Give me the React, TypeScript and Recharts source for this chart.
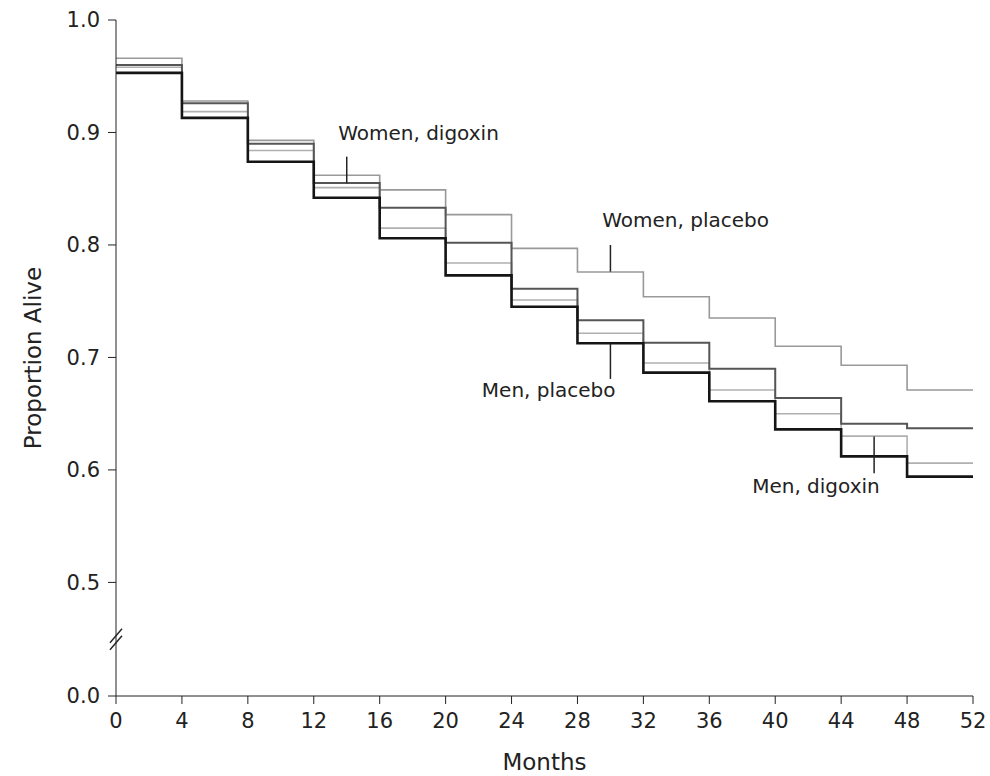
import React from "react";
import { LineChart, Line, XAxis, YAxis, ReferenceLine, ReferenceDot } from "recharts";

const months = [0, 4, 8, 12, 16, 20, 24, 28, 32, 36, 40, 44, 48, 52];
const womenPlacebo = [0.966, 0.928, 0.893, 0.862, 0.849, 0.827, 0.797, 0.776, 0.754, 0.735, 0.71, 0.693, 0.671, 0.671];
const womenDigoxin = [0.96, 0.926, 0.89, 0.855, 0.833, 0.802, 0.761, 0.733, 0.713, 0.69, 0.664, 0.641, 0.637, 0.637];
const menDigoxin = [0.958, 0.9185, 0.884, 0.851, 0.815, 0.784, 0.751, 0.7215, 0.695, 0.671, 0.65, 0.63, 0.606, 0.606];
const menPlacebo = [0.953, 0.913, 0.874, 0.842, 0.806, 0.773, 0.745, 0.7126, 0.6865, 0.661, 0.636, 0.612, 0.594, 0.594];

const xTicks = [0, 4, 8, 12, 16, 20, 24, 28, 32, 36, 40, 44, 48, 52];
const yBreakBase = 0.399; // position where "0.0" is drawn after the axis break
const yTicks = [yBreakBase, 0.5, 0.6, 0.7, 0.8, 0.9, 1.0];
const yBreakAt = 0.449;

const annotations = [
  { text: "Women, digoxin", x: 13.48, y: 0.8933, px: 14, p1: 0.8785, p2: 0.8548 },
  { text: "Women, placebo", x: 29.5, y: 0.816, px: 30, p1: 0.8, p2: 0.7763 },
  { text: "Men, placebo", x: 22.2, y: 0.6649, px: 30, p1: 0.7126, p2: 0.6809 },
  { text: "Men, digoxin", x: 38.6, y: 0.5798, px: 46, p1: 0.6296, p2: 0.597 },
];

const data = months.map((m, i) => ({
  month: m,
  wp: womenPlacebo[i],
  wd: womenDigoxin[i],
  md: menDigoxin[i],
  mp: menPlacebo[i],
}));

const FONT = "DejaVu Sans";
const INK = "#222";

const TextShape = (text: string) => (props: any) => (
  <text x={props.cx} y={props.cy} fontFamily={FONT} fontSize={20} fill={INK} textAnchor="start">
    {text}
  </text>
);

const BreakShape = (props: any) => {
  const { cx, cy } = props;
  return (
    <g stroke={INK} strokeWidth={1.4}>
      <line x1={cx - 6} y1={cy + 3} x2={cx + 6} y2={cy - 11} />
      <line x1={cx - 6} y1={cy + 10} x2={cx + 6} y2={cy - 4} />
    </g>
  );
};

export default function App() {
  return (
    <div style={{ width: 990, height: 776, background: "#fff" }}>
      <style>{"html,body{margin:0;padding:0;overflow:hidden} .recharts-surface{overflow:visible !important}"}</style>
      <LineChart
        width={990}
        height={776}
        data={data}
        margin={{ top: 20, right: 17, left: 0, bottom: 20 }}
      >
        <XAxis
          dataKey="month"
          type="number"
          domain={[0, 52]}
          ticks={xTicks}
          interval={0}
          height={60}
          tickSize={8}
          tickMargin={9}
          stroke={INK}
          tick={{ fill: INK, fontFamily: FONT, fontSize: 21 }}
          label={{
            content: (p: any) => {
              const vb = p.viewBox;
              return (
                <text x={vb.x + vb.width / 2} y={vb.y + 74} textAnchor="middle" fontFamily={FONT} fontSize={23} fill={INK}>
                  Months
                </text>
              );
            },
          }}
        />
        <YAxis
          type="number"
          domain={[yBreakBase, 1]}
          ticks={yTicks}
          interval={0}
          width={116}
          tickSize={8}
          tickMargin={8}
          stroke={INK}
          tick={{ fill: INK, fontFamily: FONT, fontSize: 21 }}
          tickFormatter={(v: number) => (v < yBreakAt ? "0.0" : v.toFixed(1))}
          label={{
            content: (p: any) => {
              const vb = p.viewBox;
              const cx = 33;
              const cy = vb.y + vb.height / 2;
              return (
                <text
                  x={cx}
                  y={cy}
                  dy="0.35em"
                  transform={`rotate(-90, ${cx}, ${cy})`}
                  textAnchor="middle"
                  fontFamily={FONT}
                  fontSize={23}
                  fill={INK}
                >
                  Proportion Alive
                </text>
              );
            },
          }}
        />
        <Line type="stepAfter" dataKey="wp" stroke="#999" strokeWidth={1.6} dot={false} isAnimationActive={false} />
        <Line type="stepAfter" dataKey="md" stroke="#b0b0b0" strokeWidth={1.6} dot={false} isAnimationActive={false} />
        <Line type="stepAfter" dataKey="wd" stroke="#555" strokeWidth={2} dot={false} isAnimationActive={false} />
        <Line type="stepAfter" dataKey="mp" stroke="#151515" strokeWidth={2.6} dot={false} isAnimationActive={false} />
        {annotations.map((a) => (
          <ReferenceLine
            key={"p" + a.text}
            segment={[
              { x: a.px, y: a.p1 },
              { x: a.px, y: a.p2 },
            ]}
            stroke={INK}
            strokeWidth={1.5}
          />
        ))}
        {annotations.map((a) => (
          <ReferenceDot key={"t" + a.text} x={a.x} y={a.y} r={0} shape={TextShape(a.text)} ifOverflow="visible" />
        ))}
        <ReferenceDot x={0} y={yBreakAt} r={0} shape={BreakShape} ifOverflow="visible" />
      </LineChart>
    </div>
  );
}
